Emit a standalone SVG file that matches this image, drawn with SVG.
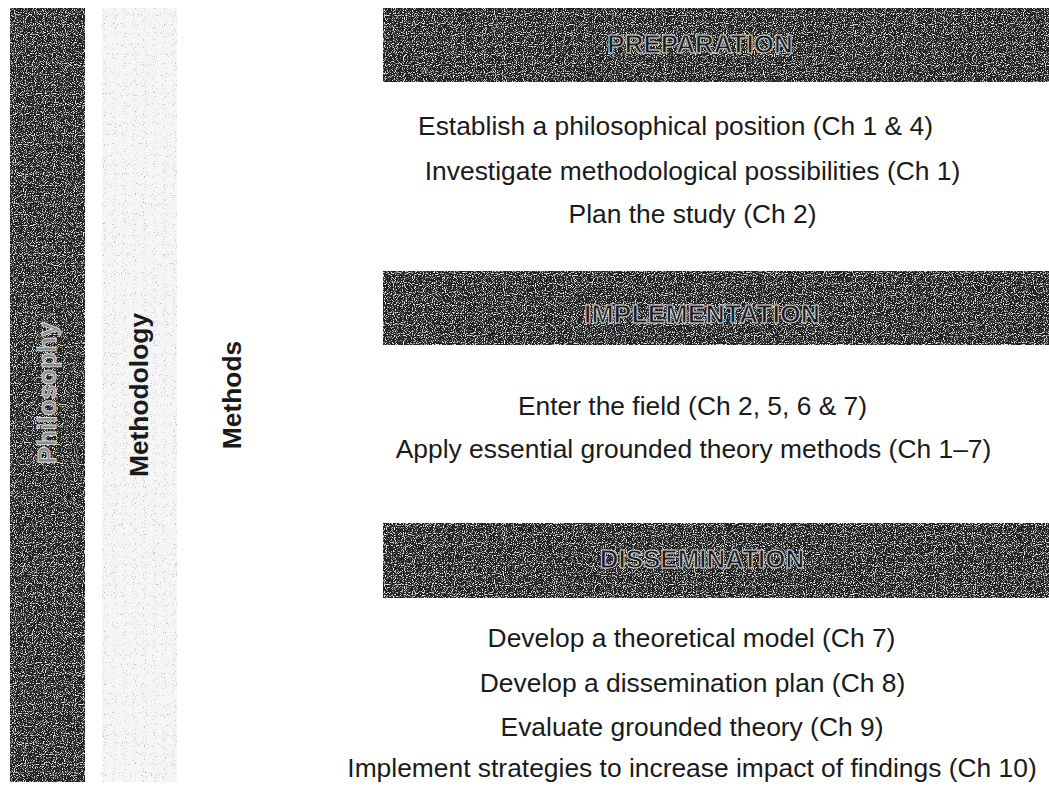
<svg xmlns="http://www.w3.org/2000/svg" width="1049" height="787" viewBox="0 0 1049 787">
  <defs>
    <filter id="darkTex" x="0" y="0" width="100%" height="100%">
      <feTurbulence type="fractalNoise" baseFrequency="0.9" numOctaves="1" seed="2" result="n"/>
      <feColorMatrix in="n" type="matrix" values="0 0 0 0 0.85  0 0 0 0 0.85  0 0 0 0 0.85  6 0 0 0 -3.2" result="dots"/>
      <feComposite in="dots" in2="SourceGraphic" operator="in" result="d2"/>
      <feMerge><feMergeNode in="SourceGraphic"/><feMergeNode in="d2"/></feMerge>
    </filter>
    <filter id="lightTex" x="0" y="0" width="100%" height="100%">
      <feTurbulence type="fractalNoise" baseFrequency="0.9" numOctaves="1" seed="7" result="n"/>
      <feColorMatrix in="n" type="matrix" values="0 0 0 0 0.45  0 0 0 0 0.45  0 0 0 0 0.45  7 0 0 0 -4.3" result="dots"/>
      <feComposite in="dots" in2="SourceGraphic" operator="in" result="d2"/>
      <feMerge><feMergeNode in="SourceGraphic"/><feMergeNode in="d2"/></feMerge>
    </filter>
  </defs>
  <style>
    .dark { fill: #242424; filter: url(#darkTex); }
    .light { fill: #f6f6f6; filter: url(#lightTex); }
    .head { font-family: "Liberation Sans", Arial, sans-serif; font-weight: bold; font-size: 26px; fill: #1c1c1c; stroke: #d2d2d2; stroke-width: 1; text-anchor: middle; }
    .vert { font-family: "Liberation Sans", Arial, sans-serif; font-weight: bold; font-size: 26.4px; text-anchor: middle; }
    .body { font-family: "Liberation Sans", Arial, sans-serif; font-size: 26.4px; fill: #1a1a1a; text-anchor: middle; }
  </style>
  <rect width="1049" height="787" fill="#ffffff"/>

  <g id="philosophy">
    <rect class="dark" x="10" y="8" width="75" height="774"/>
    <text class="vert" transform="translate(56,393) rotate(-90)" fill="#8a8a8a" stroke="#dcdcdc" stroke-width="0.9">Philosophy</text>
  </g>

  <g id="methodology">
    <rect class="light" x="102" y="8" width="75" height="774"/>
    <text class="vert" transform="translate(148,395) rotate(-90)" fill="#1a1a1a">Methodology</text>
  </g>

  <g id="methods">
    <text class="vert" transform="translate(241,395) rotate(-90)" fill="#1a1a1a">Methods</text>
  </g>

  <g id="preparation">
    <rect class="dark" x="383" y="8" width="666" height="74"/>
    <text class="head" x="700" y="53">PREPARATION</text>
    <text class="body" x="675.5" y="135">Establish a philosophical position (Ch 1 &amp; 4)</text>
    <text class="body" x="692.5" y="180">Investigate methodological possibilities (Ch 1)</text>
    <text class="body" x="692.5" y="223">Plan the study (Ch 2)</text>
  </g>

  <g id="implementation">
    <rect class="dark" x="383" y="271" width="666" height="74"/>
    <text class="head" x="702" y="323" textLength="236" lengthAdjust="spacingAndGlyphs">IMPLEMENTATION</text>
    <text class="body" x="692.5" y="415">Enter the field (Ch 2, 5, 6 &amp; 7)</text>
    <text class="body" x="693.5" y="458">Apply essential grounded theory methods (Ch 1–7)</text>
  </g>

  <g id="dissemination">
    <rect class="dark" x="383" y="523" width="666" height="75"/>
    <text class="head" x="702" y="568">DISSEMINATION</text>
    <text class="body" x="691.5" y="647">Develop a theoretical model (Ch 7)</text>
    <text class="body" x="692.5" y="692">Develop a dissemination plan (Ch 8)</text>
    <text class="body" x="692" y="736">Evaluate grounded theory (Ch 9)</text>
    <text class="body" x="692" y="777">Implement strategies to increase impact of findings (Ch 10)</text>
  </g>

  <g id="connectors"/>
</svg>
